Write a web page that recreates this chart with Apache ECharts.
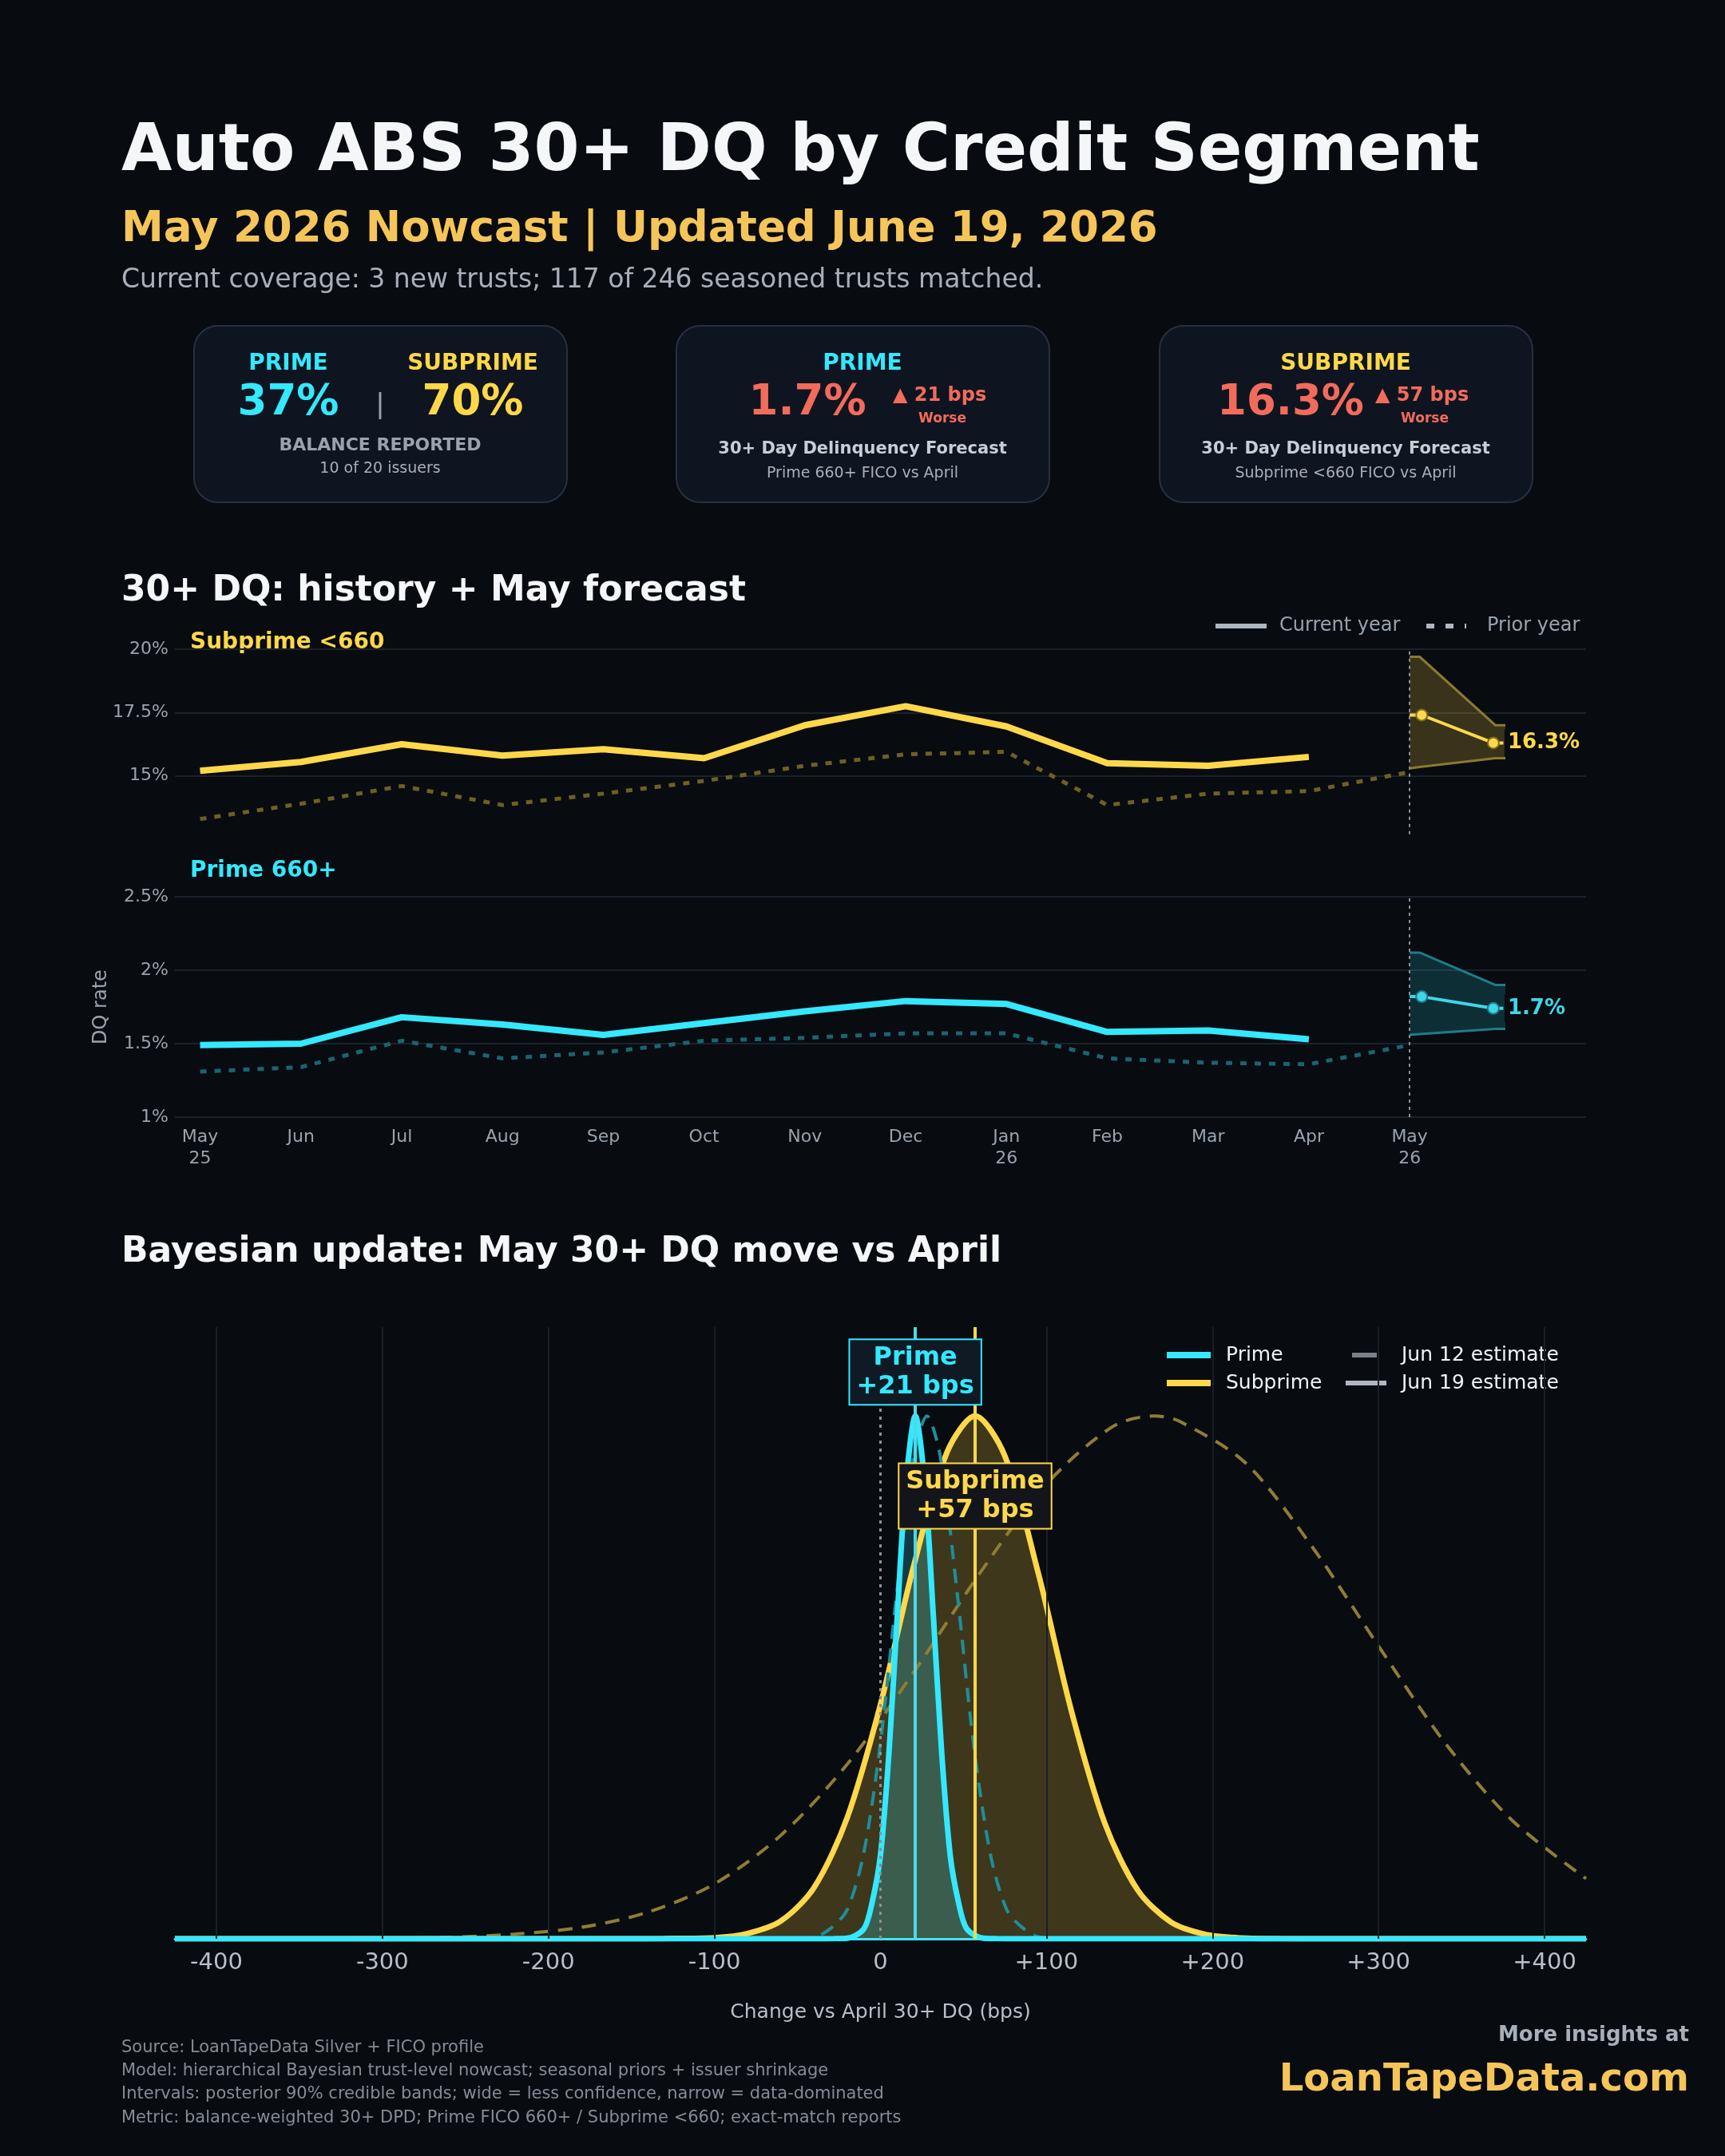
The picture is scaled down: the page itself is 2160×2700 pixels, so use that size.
<!DOCTYPE html>
<html><head><meta charset="utf-8">
<script src="https://cdn.jsdelivr.net/npm/echarts@6/dist/echarts.min.js"></script>
<style>html,body{margin:0;background:#080b10}#c{width:2160px;height:2700px}</style>
</head><body><div id="c"></div>
<script>
const months = ['May\n25','Jun','Jul','Aug','Sep','Oct','Nov','Dec','Jan\n26','Feb','Mar','Apr','May\n26'];
const subCurrent = [15.2,15.55,16.25,15.8,16.05,15.7,17.0,17.75,16.95,15.5,15.4,15.75];
const subPrior = [13.3,13.9,14.6,13.85,14.3,14.8,15.4,15.85,15.95,13.85,14.3,14.4,15.15];
const primeCurrent = [1.49,1.5,1.68,1.63,1.56,1.64,1.72,1.79,1.77,1.58,1.59,1.53];
const primePrior = [1.31,1.34,1.52,1.4,1.44,1.52,1.54,1.57,1.57,1.4,1.37,1.36,1.49];
const fcX = [12,12.1,12.85,12.95];
const subBandLow = [15.3,15.35,15.7,15.7];
const subBandHigh = [19.7,19.7,17.0,17.0];
const primeBandLow = [1.56,1.565,1.6,1.6];
const primeBandHigh = [2.12,2.12,1.9,1.9];
const fcCenterX = [12,12.12,12.83,12.93];
const subCenter = [17.4,17.4,16.3,16.3];
const primeCenter = [1.82,1.82,1.74,1.74];
// posterior densities (bps, relative density)
const subPost = [[-425,0],[-160,0],[-130,0.0005],[-100,0.002],[-80,0.01],[-60,0.034],[-40,0.098],[-20,0.232],[0,0.448],[20,0.713],[40,0.93],[57,1],[75,0.923],[95,0.70],[115,0.436],[135,0.222],[155,0.093],[175,0.032],[195,0.009],[215,0.002],[240,0.0003],[270,0],[425,0]];
const subPrev = [[-425,0],[-340,0],[-300,0.001],[-260,0.003],[-220,0.009],[-180,0.022],[-140,0.051],[-100,0.105],[-60,0.198],[-20,0.334],[20,0.51],[60,0.70],[100,0.87],[140,0.98],[165,1],[180,0.99],[220,0.91],[260,0.75],[300,0.56],[340,0.375],[380,0.228],[425,0.115]];
const primePost = [[-425,0],[-40,0],[-28,0.0002],[-20,0.001],[-10,0.019],[-5,0.07],[0,0.16],[5,0.35],[10,0.61],[15,0.86],[21,1],[27,0.86],[32,0.61],[37,0.35],[42,0.16],[47,0.07],[52,0.019],[62,0.001],[70,0.0002],[82,0],[425,0]];
const primePrev = [[-425,0],[-60,0],[-40,0.003],[-30,0.02],[-20,0.056],[-10,0.165],[0,0.375],[10,0.667],[20,0.923],[28,1],[36,0.923],[46,0.667],[56,0.375],[66,0.165],[76,0.056],[86,0.02],[96,0.003],[116,0],[425,0]];
const primeMove = 21, subMove = 57;
const bpsTicks = [-400,-300,-200,-100,0,100,200,300,400];

const BG='#080b10', CY='#33e8ff', YE='#ffd84a', GR='#9aa3ad', F='DejaVu Sans';
const zip=(xs,ys)=>xs.map((x,i)=>[x,ys[i]]);
const ch = echarts.init(document.getElementById('c'));
const T=(x,y,text,size,color,weight,align,extra)=>({type:'text',x,y,style:Object.assign({text,fontSize:size,fill:color,fontWeight:weight||'normal',fontFamily:F,align:align||'left',verticalAlign:'middle'},extra||{})});
const card=(x)=>({type:'rect',shape:{x,y:408,width:467,height:221,r:30},style:{fill:'#0f1520',stroke:'#273040',lineWidth:2}});
const coral='#f26b5b';
const graphics=[
 T(152,192,'Auto ABS 30+ DQ by Credit Segment',82,'#f5f6f8','bold'),
 T(152,288,'May 2026 Nowcast | Updated June 19, 2026',53,'#f5c55a','bold'),
 T(152,351,'Current coverage: 3 new trusts; 117 of 246 seasoned trusts matched.',33,'#a8afb8'),
 card(243),card(847),card(1452),
 T(361,456,'PRIME',28,CY,'bold','center'), T(592,456,'SUBPRIME',28,YE,'bold','center'),
 T(361,505,'37%',53,CY,'bold','center'), T(476,508,'|',34,GR,'normal','center'), T(592,505,'70%',53,YE,'bold','center'),
 T(476,558,'BALANCE REPORTED',22,GR,'bold','center'), T(476,587,'10 of 20 issuers',19,'#a8afb8','normal','center'),
 T(1080,456,'PRIME',28,CY,'bold','center'),
 T(1011,505,'1.7%',53,coral,'bold','center'), T(1118,496,'▲ 21 bps',24,coral,'bold','left'), T(1180,525,'Worse',17,coral,'bold','center'),
 T(1080,563,'30+ Day Delinquency Forecast',21,'#c8ced6','bold','center'), T(1080,593,'Prime 660+ FICO vs April',19,'#a8afb8','normal','center'),
 T(1685,456,'SUBPRIME',28,YE,'bold','center'),
 T(1616,505,'16.3%',53,coral,'bold','center'), T(1722,496,'▲ 57 bps',24,coral,'bold','left'), T(1784,525,'Worse',17,coral,'bold','center'),
 T(1685,563,'30+ Day Delinquency Forecast',21,'#c8ced6','bold','center'), T(1685,593,'Subprime <660 FICO vs April',19,'#a8afb8','normal','center'),
 T(152,741,'30+ DQ: history + May forecast',44,'#f5f6f8','bold'),
 T(238,805,'Subprime <660',28,YE,'bold'),
 T(238,1091,'Prime 660+',28,CY,'bold'),
 {type:'line',shape:{x1:1522,y1:784,x2:1586,y2:784},style:{stroke:'#b0b6c0',lineWidth:6}},
 T(1602,784,'Current year',24,GR),
 {type:'line',shape:{x1:1786,y1:784,x2:1836,y2:784},style:{stroke:'#b0b6c0',lineWidth:6,lineDash:[10,14]}},
 T(1862,784,'Prior year',24,GR),
 T(152,1569,'Bayesian update: May 30+ DQ move vs April',44,'#f5f6f8','bold'),
 {type:'line',shape:{x1:1461,y1:1697,x2:1516,y2:1697},style:{stroke:CY,lineWidth:8}},
 T(1535,1697,'Prime',25,'#f0f2f5'),
 {type:'line',shape:{x1:1461,y1:1732,x2:1516,y2:1732},style:{stroke:YE,lineWidth:8}},
 T(1535,1732,'Subprime',25,'#f0f2f5'),
 {type:'line',shape:{x1:1693,y1:1697,x2:1724,y2:1697},style:{stroke:'#7a8088',lineWidth:6}},
 T(1755,1697,'Jun 12 estimate',25,'#f0f2f5'),
 {type:'line',shape:{x1:1685,y1:1732,x2:1736,y2:1732},style:{stroke:'#b0b6c0',lineWidth:6}},
 T(1755,1732,'Jun 19 estimate',25,'#f0f2f5'),
 T(152,2565,'Source: LoanTapeData Silver + FICO profile',21,'#858c96'),
 T(152,2594,'Model: hierarchical Bayesian trust-level nowcast; seasonal priors + issuer shrinkage',21,'#858c96'),
 T(152,2623,'Intervals: posterior 90% credible bands; wide = less confidence, narrow = data-dominated',21,'#858c96'),
 T(152,2653,'Metric: balance-weighted 30+ DPD; Prime FICO 660+ / Subprime <660; exact-match reports',21,'#858c96'),
 T(2115,2549,'More insights at',26,'#a8afb8','bold','right'),
 T(2115,2606,'LoanTapeData.com',48,'#f5c55a','bold','right'),
];
const monthAxis=(gi,show)=>({type:'value',gridIndex:gi,min:-0.25,max:13.75,interval:0.25,
  axisLine:{show:false},axisTick:{show:false},splitLine:{show:false},
  axisLabel:{show:show,color:GR,fontSize:22,fontFamily:F,lineHeight:27,margin:12,
    formatter:v=>Number.isInteger(v)&&v>=0&&v<=12?months[v]:''}});
const vline=(gi,extra)=>({type:'line',xAxisIndex:gi,yAxisIndex:gi,data:[],markLine:Object.assign({silent:true,symbol:'none',label:{show:false},lineStyle:{color:'#8a9099',type:[4,5],width:2},data:[{xAxis:12}]},extra||{})});
const bandSeries=(gi,lo,hi,line,fill)=>({type:'custom',xAxisIndex:gi,yAxisIndex:gi,z:2,
  data:fcX.map((x,i)=>[x,lo[i],hi[i]]),
  renderItem:(params,api)=>{
    if(params.dataIndex!==0) return null;
    const up=fcX.map((x,i)=>api.coord([x,hi[i]]));
    const dn=fcX.map((x,i)=>api.coord([x,lo[i]]));
    return {type:'group',children:[
      {type:'polygon',shape:{points:up.concat(dn.slice().reverse())},style:{fill}},
      {type:'polyline',shape:{points:up},style:{stroke:line,lineWidth:3,fill:null}},
      {type:'polyline',shape:{points:dn},style:{stroke:line,lineWidth:3,fill:null}}]};
  }});
const centerSeries=(gi,ys,color,lbl,bc)=>({type:'line',xAxisIndex:gi,yAxisIndex:gi,z:5,
  data:zip(fcCenterX,ys).map((p,i)=>({value:p,symbol:(i==1||i==2)?'circle':'none',symbolSize:14,
    label:i==2?{show:true,position:'right',formatter:lbl,color,fontSize:26,fontWeight:'bold',fontFamily:F,backgroundColor:BG,padding:[4,4],distance:6}:{show:false}})),
  lineStyle:{color,width:4},itemStyle:{color,borderColor:bc,borderWidth:2}});
const dens=(data,color,width,type,area)=>({type:'line',xAxisIndex:2,yAxisIndex:2,data,smooth:0.3,symbol:'none',z:3,
  lineStyle:{color,width,type},areaStyle:area?{color:area,opacity:1}:undefined});
ch.setOption({
  backgroundColor:BG, animation:false, graphic:graphics,
  grid:[{left:219,right:174,top:813,height:238},{left:219,right:174,top:1123,height:276},{left:219,right:174,top:1662,bottom:272}],
  xAxis:[monthAxis(0,false),monthAxis(1,true),
   {type:'value',gridIndex:2,min:-425,max:425,interval:25,
    name:'Change vs April 30+ DQ (bps)',nameLocation:'middle',nameGap:80,nameTextStyle:{color:'#b8bfc8',fontSize:25,fontFamily:F},
    axisLine:{show:true,lineStyle:{color:CY,width:3}},
    axisTick:{show:false},
    axisLabel:{color:'#b8bfc8',fontSize:29,fontFamily:F,margin:16,showMinLabel:false,showMaxLabel:false,formatter:v=>v%100===0?(v>0?'+'+v:String(v)):''},
    splitLine:{show:false}}],
  yAxis:[
   {type:'value',gridIndex:0,min:12.5,max:20,interval:2.5,axisLine:{show:false},axisTick:{show:false},
    axisLabel:{color:GR,fontSize:22,fontFamily:F,formatter:v=>v===12.5?'':v+'%'},
    splitLine:{lineStyle:{color:['transparent','#1c222c','#1c222c','#1c222c'],width:2}}},
   {type:'value',gridIndex:1,min:1,max:2.5,interval:0.5,axisLine:{show:false},axisTick:{show:false},
    name:'DQ rate',nameLocation:'middle',nameGap:80,nameTextStyle:{color:GR,fontSize:24,fontFamily:F},
    axisLabel:{color:GR,fontSize:22,fontFamily:F,formatter:v=>v+'%'},splitLine:{lineStyle:{color:'#1c222c',width:2}}},
   {type:'value',gridIndex:2,min:0,max:1.17,show:false,splitLine:{show:false}}],
  series:[
   vline(0,{data:[[{coord:[12,12.7]},{coord:[12,20]}]]}),
   {type:'line',xAxisIndex:0,yAxisIndex:0,data:subPrior.map((v,i)=>[i,v]),symbol:'none',lineStyle:{color:'#6e6024',width:5,type:[8,10]}},
   {type:'line',xAxisIndex:0,yAxisIndex:0,data:subCurrent.map((v,i)=>[i,v]),symbol:'none',lineStyle:{color:YE,width:8},z:4},
   bandSeries(0,subBandLow,subBandHigh,'#8a7a30','rgba(255,216,74,0.2)'),
   centerSeries(0,subCenter,YE,'16.3%','#7a6a20'),
   vline(1,{data:[[{coord:[12,1]},{coord:[12,2.5]}]]}),
   {type:'line',xAxisIndex:1,yAxisIndex:1,data:primePrior.map((v,i)=>[i,v]),symbol:'none',lineStyle:{color:'#1b6470',width:5,type:[8,10]}},
   {type:'line',xAxisIndex:1,yAxisIndex:1,data:primeCurrent.map((v,i)=>[i,v]),symbol:'none',lineStyle:{color:CY,width:8},z:4},
   bandSeries(1,primeBandLow,primeBandHigh,'#1e7c8a','rgba(51,232,255,0.16)'),
   centerSeries(1,primeCenter,'#3fd6e8','1.7%','#1e7c8a'),
   {type:'line',xAxisIndex:2,yAxisIndex:2,data:[],z:1,markLine:{silent:true,symbol:'none',label:{show:false},
     lineStyle:{color:'#1a1f27',width:2,type:'solid'},data:bpsTicks.filter(v=>v!==0).map(v=>({xAxis:v}))}},
   {type:'line',xAxisIndex:2,yAxisIndex:2,data:[],z:2,markLine:{silent:true,symbol:'none',label:{show:false},
     lineStyle:{color:'#8a9099',width:3,type:[4,6]},data:[[{coord:[0,0]},{coord:[0,1.12]}]]}},
   dens(subPrev,'#8f7d36',4,[18,12]),
   dens(subPost,YE,7,'solid','rgba(255,216,74,0.22)'),
   dens(primePrev,'#1f8e9a',4,[18,12]),
   dens(primePost,CY,7,'solid','rgba(51,232,255,0.22)'),
   {type:'line',xAxisIndex:2,yAxisIndex:2,data:[],z:6,markLine:{silent:true,symbol:'none',label:{show:false},
     data:[[{coord:[primeMove,0],lineStyle:{color:'#4fd8e6',width:4,type:'solid'}},{coord:[primeMove,1.17]}],
           [{coord:[subMove,0],lineStyle:{color:YE,width:4,type:'solid'}},{coord:[subMove,1.17]}]]},
    markPoint:{symbol:'rect',symbolSize:1,silent:true,data:[
     {coord:[primeMove,1.084],label:{show:true,formatter:'Prime\n+21 bps',color:CY,fontSize:32,fontWeight:'bold',fontFamily:F,lineHeight:36,align:'center',backgroundColor:'#0f1a24',borderColor:CY,borderWidth:2,padding:[4,8]}},
     {coord:[subMove,0.847],label:{show:true,formatter:'Subprime\n+57 bps',color:YE,fontSize:32,fontWeight:'bold',fontFamily:F,lineHeight:36,align:'center',backgroundColor:'#14151a',borderColor:YE,borderWidth:2,padding:[4,8]}}]}}
  ]
});
</script></body></html>
